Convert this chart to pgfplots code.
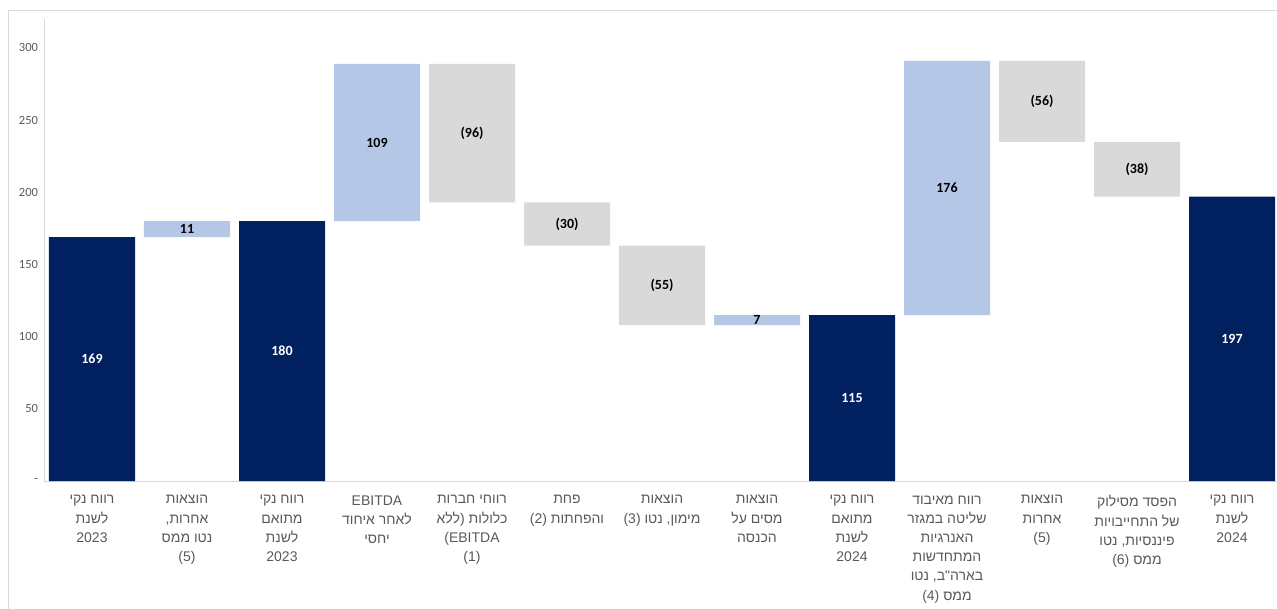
\documentclass[border=0pt]{standalone}
\usepackage{pgfplots}
\pgfplotsset{compat=1.18}
\usepackage{pgfplotstable}
\usepackage{fontspec}
\setmainfont{Carlito}
\newfontfamily\hebfont[Script=Hebrew]{Liberation Sans}
\TeXXeTstate=1
\definecolor{navy}{HTML}{002060}
\definecolor{lblue}{HTML}{B4C7E7}
\definecolor{lgray}{HTML}{D9D9D9}
\definecolor{txtgray}{HTML}{595959}
\definecolor{axgray}{HTML}{D9D9D9}

\pgfplotstableread{
x base total inc dec
0 0 169 0 0
1 169 0 11 0
2 0 180 0 0
3 180 0 109 0
4 193 0 0 96
5 163 0 0 30
6 108 0 0 55
7 108 0 7 0
8 0 115 0 0
9 115 0 176 0
10 235 0 0 56
11 197 0 0 38
12 0 197 0 0
}\wf

\pgfplotstableread{
x y label
0 84.5 169
2 90 180
8 57.5 115
12 98.5 197
}\wlab

\pgfplotstableread{
x y label
1 174.5 11
3 234.5 109
4 241 (96)
5 178 (30)
6 135.5 (55)
7 111.5 7
9 203 176
10 263 (56)
11 216 (38)
}\blab

\pgfplotsset{
  common/.style={
    at={(44.5pt,127pt)}, anchor=south west,
    scale only axis, width=1235pt, height=461.9pt,
    xmin=-0.5, xmax=12.5, ymin=0, ymax=320,
  }
}

\begin{document}
\begin{tikzpicture}[x=1pt,y=1pt]
\path[use as bounding box] (0,0) rectangle (1277,608);
\draw[axgray] (8,-20) -- (8,598) -- (1300,598);
\begin{axis}[common,
  ybar stacked, bar width=86pt,
  axis x line*=bottom, axis y line*=left,
  axis line style={draw=axgray, -},
  major tick length=0pt,
  xtick={0,...,12},
  ytick={0,50,...,300},
  yticklabels={-,50,100,150,200,250,300},
  /pgf/number format/assume math mode=true,
  yticklabel style={font=\fontsize{12.5}{14}\selectfont, text=txtgray, xshift=-3pt},
  xticklabel style={font=\hebfont\fontsize{14}{19.2}\selectfont, text=txtgray, align=center, anchor=north, yshift=-11pt},
  xticklabels={
    {\beginR רווח נקי\endR\\\beginR לשנת\endR\\2023},
    {\beginR הוצאות\endR\\\beginR אחרות,\endR\\\beginR נטו ממס\endR\\(5)},
    {\beginR רווח נקי\endR\\\beginR מתואם\endR\\\beginR לשנת\endR\\2023},
    {EBITDA\\\beginR לאחר איחוד\endR\\\beginR יחסי\endR},
    {\beginR רווחי חברות\endR\\\beginR כלולות (ללא\endR\\(EBITDA\\(1)},
    {\beginR פחת\endR\\\beginR והפחתות (2)\endR},
    {\beginR הוצאות\endR\\\beginR מימון, נטו (3)\endR},
    {\beginR הוצאות\endR\\\beginR מסים על\endR\\\beginR הכנסה\endR},
    {\beginR רווח נקי\endR\\\beginR מתואם\endR\\\beginR לשנת\endR\\2024},
    {\beginR רווח מאיבוד\endR\\\beginR שליטה במגזר\endR\\\beginR האנרגיות\endR\\\beginR המתחדשות\endR\\\beginR בארה"ב, נטו\endR\\\beginR ממס (4)\endR},
    {\beginR הוצאות\endR\\\beginR אחרות\endR\\(5)},
    {\beginR הפסד מסילוק\endR\\\beginR של התחייבויות\endR\\\beginR פיננסיות, נטו\endR\\\beginR ממס (6)\endR},
    {\beginR רווח נקי\endR\\\beginR לשנת\endR\\2024}
  },
]
\addplot[draw=none, fill=none] table[x=x, y=base] {\wf};
\addplot[draw=none, fill=navy] table[x=x, y=total] {\wf};
\addplot[draw=none, fill=lblue] table[x=x, y=inc] {\wf};
\addplot[draw=none, fill=lgray] table[x=x, y=dec] {\wf};
\end{axis}
\begin{axis}[common, hide axis]
\addplot[only marks, mark=none, point meta=explicit symbolic, nodes near coords,
  nodes near coords style={anchor=center, font=\bfseries\fontsize{14}{16}\selectfont, text=white}]
  table[x=x, y=y, meta=label] {\wlab};
\addplot[only marks, mark=none, point meta=explicit symbolic, nodes near coords,
  nodes near coords style={anchor=center, font=\bfseries\fontsize{14}{16}\selectfont, text=black}]
  table[x=x, y=y, meta=label] {\blab};
\end{axis}
\end{tikzpicture}
\end{document}
